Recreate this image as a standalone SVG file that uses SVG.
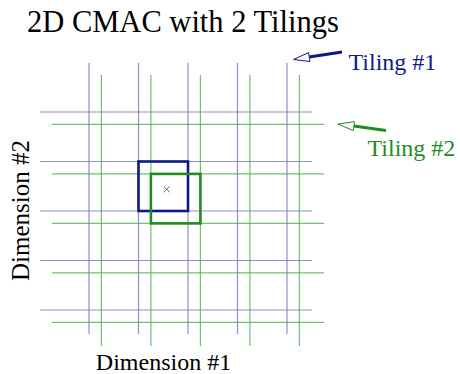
<svg xmlns="http://www.w3.org/2000/svg" width="460" height="374" viewBox="0 0 460 374">
<style>
.t{font-family:"Liberation Serif","Times New Roman",serif;}
.g1 line{stroke:#6c74c0;stroke-width:1.2;stroke-opacity:0.8}
.g2 line{stroke:#4fae4f;stroke-width:1.2;stroke-opacity:0.8}
.sq1{fill:none;stroke:#0c1888;stroke-width:2.6}
.sq2{fill:none;stroke:#1e8c1e;stroke-width:2.6}
.head{fill:#fff;stroke-width:1}
</style>
<rect width="460" height="374" fill="#fff"/>
<text id="title" class="t" x="27" y="32" font-size="30.5" fill="#000">2D CMAC with 2 Tilings</text>
<g id="tiling1-grid" class="g1">
<line x1="89" y1="63" x2="89" y2="334"/>
<line x1="138.5" y1="63" x2="138.5" y2="334"/>
<line x1="188" y1="63" x2="188" y2="334"/>
<line x1="237.5" y1="63" x2="237.5" y2="334"/>
<line x1="287" y1="63" x2="287" y2="334"/>
<line x1="40" y1="112" x2="312" y2="112"/>
<line x1="40" y1="161.5" x2="312" y2="161.5"/>
<line x1="40" y1="211" x2="312" y2="211"/>
<line x1="40" y1="260.5" x2="312" y2="260.5"/>
<line x1="40" y1="310" x2="312" y2="310"/>
</g>
<g id="tiling2-grid" class="g2">
<line x1="101.4" y1="75" x2="101.4" y2="346"/>
<line x1="150.9" y1="75" x2="150.9" y2="346"/>
<line x1="200.4" y1="75" x2="200.4" y2="346"/>
<line x1="249.9" y1="75" x2="249.9" y2="346"/>
<line x1="299.4" y1="75" x2="299.4" y2="346"/>
<line x1="52" y1="124.4" x2="324" y2="124.4"/>
<line x1="52" y1="173.9" x2="324" y2="173.9"/>
<line x1="52" y1="223.4" x2="324" y2="223.4"/>
<line x1="52" y1="272.9" x2="324" y2="272.9"/>
<line x1="52" y1="322.4" x2="324" y2="322.4"/>
</g>
<g id="tile1-active"><rect class="sq1" x="138.5" y="161.5" width="49.5" height="49.5"/></g>
<g id="tile2-active"><rect class="sq2" x="150.9" y="173.9" width="49.5" height="49.5"/></g>
<g id="point"><path d="M163.7 186.3 L169.7 192.3 M169.7 186.3 L163.7 192.3" stroke="#666" stroke-width="1" fill="none"/></g>
<g id="label-tiling1"><text class="t" x="348.5" y="69.5" font-size="24" fill="#101a8a">Tiling #1</text></g>
<g id="label-tiling2"><text class="t" x="367.5" y="156" font-size="24" fill="#1e8c1e">Tiling #2</text></g>
<g id="label-dim1"><text class="t" x="163.5" y="370" font-size="24" text-anchor="middle" fill="#000">Dimension #1</text></g>
<g id="label-dim2"><text class="t" transform="translate(29 210.5) rotate(-90)" x="0" y="0" font-size="25" text-anchor="middle" fill="#000">Dimension #2</text></g>
<g id="connectors">
<line x1="342" y1="52" x2="309.3" y2="57.05" stroke="#0c1888" stroke-width="3"/>
<polygon class="head" points="293.5,59.5 310,61.5 308.6,52.6" stroke="#0c1888"/>
<line x1="386" y1="130.5" x2="353.9" y2="126.1" stroke="#1e8c1e" stroke-width="3"/>
<polygon class="head" points="338,124 353.3,130.6 354.5,121.7" stroke="#1e8c1e"/>
</g>
</svg>
